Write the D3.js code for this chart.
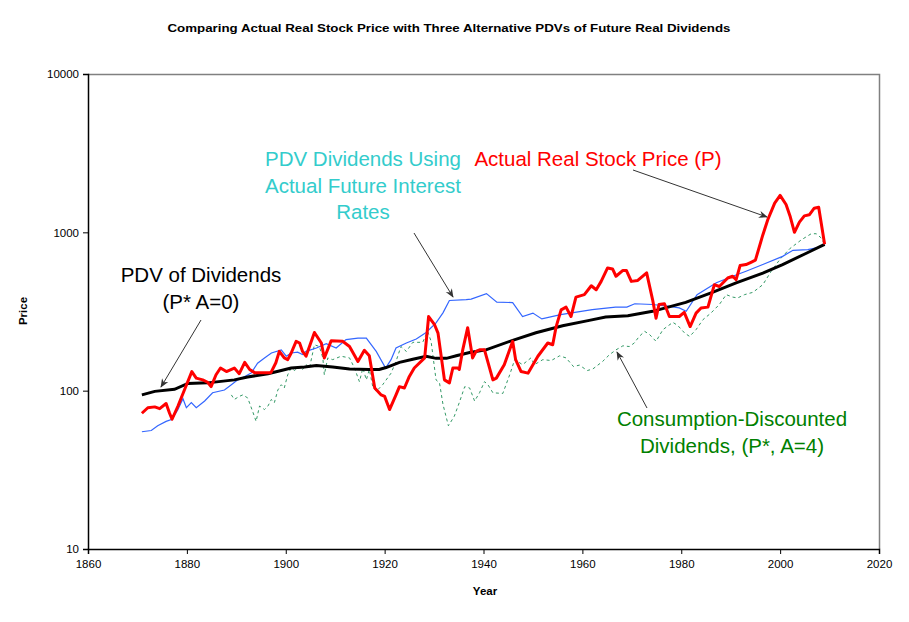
<!DOCTYPE html>
<html>
<head>
<meta charset="utf-8">
<script src="https://cdn.jsdelivr.net/npm/d3@7"></script>
<style>
  body { margin: 0; background: #fff; }
  svg { font-family: "Liberation Sans", Arial, sans-serif; }
</style>
</head>
<body>
<svg id="chart" width="909" height="622"></svg>
<script>
// values (real dollars, log scale)
var priceYears = [1870.9,1872.1,1873.5,1874.5,1875.8,1876.5,1877,1878.2,1879.5,1881,1881.9,1883.2,1884.2,1884.9,1885.9,1886.8,1888,1889.6,1890.6,1891.7,1892.7,1893.7,1897,1898,1898.7,1899.7,1900.4,1901.1,1902.1,1902.8,1903.4,1904.1,1905.8,1907.2,1907.8,1909.2,1911.5,1912.9,1914.6,1915.9,1916.9,1918,1919.3,1920,1921,1922.3,1923,1924,1925,1926,1928.1,1928.9,1930.1,1930.8,1932.1,1933.1,1933.8,1934.8,1935.1,1935.8,1936.8,1937.8,1938.5,1939.2,1940.2,1941.9,1942.6,1944.2,1945.9,1946.5,1947.6,1949,1951,1953,1954,1954.7,1955.7,1956.7,1957.7,1958.7,1960.4,1961.8,1962.8,1963.8,1965.1,1966.1,1966.8,1968.2,1968.9,1969.9,1971.2,1973,1974.2,1974.9,1975.5,1976.6,1977.6,1979.6,1980.6,1981.8,1983,1984,1985.4,1986.7,1987.7,1989.4,1990.4,1991.1,1991.9,1993.1,1994.1,1995,1996.5,1997.5,1998.9,2000,2001.2,2002,2002.9,2003.9,2004.9,2005.9,2006.9,2007.8,2009];
var priceValues = [72,78,79,77,83,72,66,80,101,132,120,117,113,106,126,139,132,139,128,151,136,130,130,150,177,161,157,173,205,200,177,165,233,200,161,207,205,190,153,180,166,104,94,92,76,94,106,104,123,139,161,294,261,231,117,112,139,139,136,181,250,161,177,181,181,117,120,146,205,157,132,129,165,200,195,254,324,337,294,390,404,460,434,490,596,587,528,575,575,490,497,555,376,287,350,354,294,294,312,254,309,333,337,467,455,515,528,503,617,626,647,667,963,1200,1530,1710,1500,1270,1000,1160,1270,1290,1420,1440,840];

var rateYears = [1870.9,1872.8,1874.1,1875.8,1877,1878.2,1879.2,1879.9,1880.9,1881.9,1883.6,1885.2,1887.6,1889,1890.3,1891.7,1893,1894.3,1895.7,1897.1,1899.1,1900.1,1901.1,1902.4,1903.4,1904.1,1906.2,1908.2,1910.2,1912.2,1914.6,1916.3,1918.3,1920.2,1921.3,1922.3,1924.4,1926.4,1928.4,1930.4,1931.8,1933.1,1936.5,1937.5,1940.6,1942.7,1945.9,1947.9,1950,1951.8,1955.6,1962,1966.7,1969,1970.6,1974.2,1977.6,1979.6,1981,1983.2,1987.1,1990.4,1993.1,1996.5,2000.5,2002.6,2005.6,2007.3,2009];
var rateValues = [55,56,60,64,66,76,89,78,84,78,86,97,101,109,117,123,129,149,161,173,181,165,173,175,169,177,186,198,186,210,215,215,177,139,157,186,200,212,233,268,310,371,376,379,410,362,360,294,309,284,302,325,337,337,354,350,341,333,317,404,480,528,568,626,705,770,778,797,840];

var pstarYears = [1870.9,1873.5,1877.5,1880.2,1884.2,1889.6,1892.3,1896.4,1899.1,1901.1,1903.8,1906.2,1909.5,1912.9,1916.9,1918.9,1920.3,1923,1925.7,1928.4,1930.4,1932.5,1934.5,1937.2,1940.5,1945.9,1950.6,1956,1961.4,1964.7,1969.2,1974.2,1980.9,1986.3,1991.1,1996.5,2000.5,2005.2,2009];
var pstarValues = [94,99,102,111,112,117,122,128,134,139,141,144,141,137,136,136,140,151,158,165,160,160,166,174,181,208,232,257,278,292,297,317,361,418,480,553,626,735,840];

var consYears = [1889,1889.6,1890.6,1891.3,1892.3,1893.3,1894,1894.7,1895.7,1896.4,1897.1,1897.7,1898.4,1899.1,1899.7,1900.4,1901.1,1901.8,1902.4,1903.4,1904.1,1904.8,1905.8,1906.8,1907.5,1907.8,1908.5,1909.5,1911.2,1912.9,1913.9,1914.9,1915.6,1916.3,1916.9,1917.6,1918.3,1919.6,1921.3,1922.3,1923.3,1924.4,1925.7,1927.7,1928.7,1929.4,1930.4,1931.1,1931.8,1932.9,1934.1,1935.1,1936.2,1937.2,1938.2,1939.2,1940.2,1940.9,1941.9,1943.9,1945.3,1946.3,1947.9,1949.6,1950.3,1952,1953.7,1955.4,1956.7,1958.2,1959.4,1961,1962.1,1964.1,1965.5,1966.8,1968.2,1969.5,1970.5,1971.5,1972.6,1973.6,1974.9,1976.3,1978.3,1979.3,1980.7,1981.7,1983,1984.4,1986,1987.7,1989.1,1990.4,1991.4,1992.8,1994.5,1996.5,1998.2,1999.9,2001.9,2004.3,2006.3,2007.3,2008.3,2009];
var consValues = [94,88,92,94,90,74,64,80,76,80,88,84,101,109,104,126,139,134,142,136,146,139,195,190,161,126,161,157,165,161,139,114,139,117,136,106,99,109,129,153,190,177,202,202,237,205,117,112,82,60,69,84,106,104,86,97,114,109,97,96,126,157,146,161,146,157,155,166,161,142,145,134,137,153,169,181,192,190,200,220,237,226,205,243,270,258,231,220,243,281,309,350,404,390,385,404,418,467,568,671,786,897,980,980,922,840];

var xTicks = [1860,1880,1900,1920,1940,1960,1980,2000,2020];
var yTicks = [10,100,1000,10000];

var svg = d3.select("#chart");
var margin = {left: 88, top: 74, right: 30, bottom: 73};
var W = 909 - margin.left - margin.right, H = 622 - margin.top - margin.bottom;

var x = d3.scaleLinear().domain([1860, 2020]).range([0, W]);
var y = d3.scaleLog().domain([10, 10000]).range([H, 0]);

// title
svg.append("text")
    .attr("x", 449).attr("y", 32)
    .attr("text-anchor", "middle")
    .attr("font-size", 11.5).attr("font-weight", "bold")
    .attr("textLength", 563).attr("lengthAdjust", "spacingAndGlyphs")
    .text("Comparing Actual Real Stock Price with Three Alternative PDVs of Future Real Dividends");

var g = svg.append("g").attr("transform", "translate(" + margin.left + "," + margin.top + ")");

// frame: gray top/right
g.append("path")
    .attr("d", "M0,0.5H" + (W + 0.5) + "V" + H)
    .attr("fill", "none").attr("stroke", "#808080").attr("stroke-width", 1.5);

var xAxis = g.append("g").attr("transform", "translate(0," + H + ")")
    .call(d3.axisBottom(x).tickValues(xTicks).tickFormat(d3.format("d")).tickSize(5).tickPadding(6));
var yAxis = g.append("g")
    .call(d3.axisLeft(y).tickValues(yTicks).tickFormat(d3.format("d")).tickSize(5).tickPadding(4));
[xAxis, yAxis].forEach(function (a) {
    a.select(".domain").attr("stroke", "#000").attr("stroke-width", 1.5);
    a.selectAll(".tick line").attr("stroke", "#000");
    a.selectAll(".tick text").attr("font-size", 11.5).attr("fill", "#000")
        .attr("font-family", "'Liberation Sans', Arial, sans-serif");
});

svg.append("text").attr("x", 485).attr("y", 595).attr("text-anchor", "middle")
    .attr("font-size", 11.5).attr("font-weight", "bold").text("Year");
svg.append("text").attr("transform", "translate(27,311) rotate(-90)").attr("text-anchor", "middle")
    .attr("font-size", 11.5).attr("font-weight", "bold").text("Price");

function line(xs) {
    return d3.line().x(function (d, i) { return x(xs[i]); }).y(function (d) { return y(d); });
}

g.append("path").datum(consValues).attr("d", line(consYears))
    .attr("fill", "none").attr("stroke", "#339966").attr("stroke-width", 1).attr("stroke-dasharray", "3,3");
g.append("path").datum(rateValues).attr("d", line(rateYears))
    .attr("fill", "none").attr("stroke", "#3366FF").attr("stroke-width", 1.2);
g.append("path").datum(pstarValues).attr("d", line(pstarYears))
    .attr("fill", "none").attr("stroke", "#000").attr("stroke-width", 3);
g.append("path").datum(priceValues).attr("d", line(priceYears))
    .attr("fill", "none").attr("stroke", "#FF0000").attr("stroke-width", 3).attr("stroke-linejoin", "round");

// arrow marker
svg.append("defs").append("marker")
    .attr("id", "arr").attr("viewBox", "0 0 10 10").attr("refX", 9).attr("refY", 5)
    .attr("markerWidth", 9).attr("markerHeight", 9).attr("orient", "auto")
  .append("path").attr("d", "M0,1 L10,5 L0,9 L3,5 Z").attr("fill", "#333");

var notes = [
    {lines: ["PDV Dividends Using", "Actual Future Interest", "Rates"], x: 363, y: 166, color: "#33CCCC", from: [414, 233], to: [453, 297]},
    {lines: ["Actual Real Stock Price (P)"], x: 598, y: 166, color: "#FF0000", from: [633, 170], to: [767, 217]},
    {lines: ["PDV of Dividends", "(P* A=0)"], x: 201, y: 282, color: "#000", from: [201, 320], to: [161, 387]},
    {lines: ["Consumption-Discounted", "Dividends, (P*, A=4)"], x: 732, y: 426, color: "#008000", from: [647, 408], to: [617, 352]}
];
notes.forEach(function (n) {
    var t = svg.append("text").attr("text-anchor", "middle").attr("font-size", 20.5)
        .attr("font-family", "Arial, 'Liberation Sans', sans-serif").attr("fill", n.color);
    n.lines.forEach(function (s, i) {
        t.append("tspan").attr("x", n.x).attr("y", n.y + i * 26.5).text(s);
    });
    svg.append("line").attr("x1", n.from[0]).attr("y1", n.from[1]).attr("x2", n.to[0]).attr("y2", n.to[1])
        .attr("stroke", "#333").attr("stroke-width", 1).attr("marker-end", "url(#arr)");
});
</script>
</body>
</html>
